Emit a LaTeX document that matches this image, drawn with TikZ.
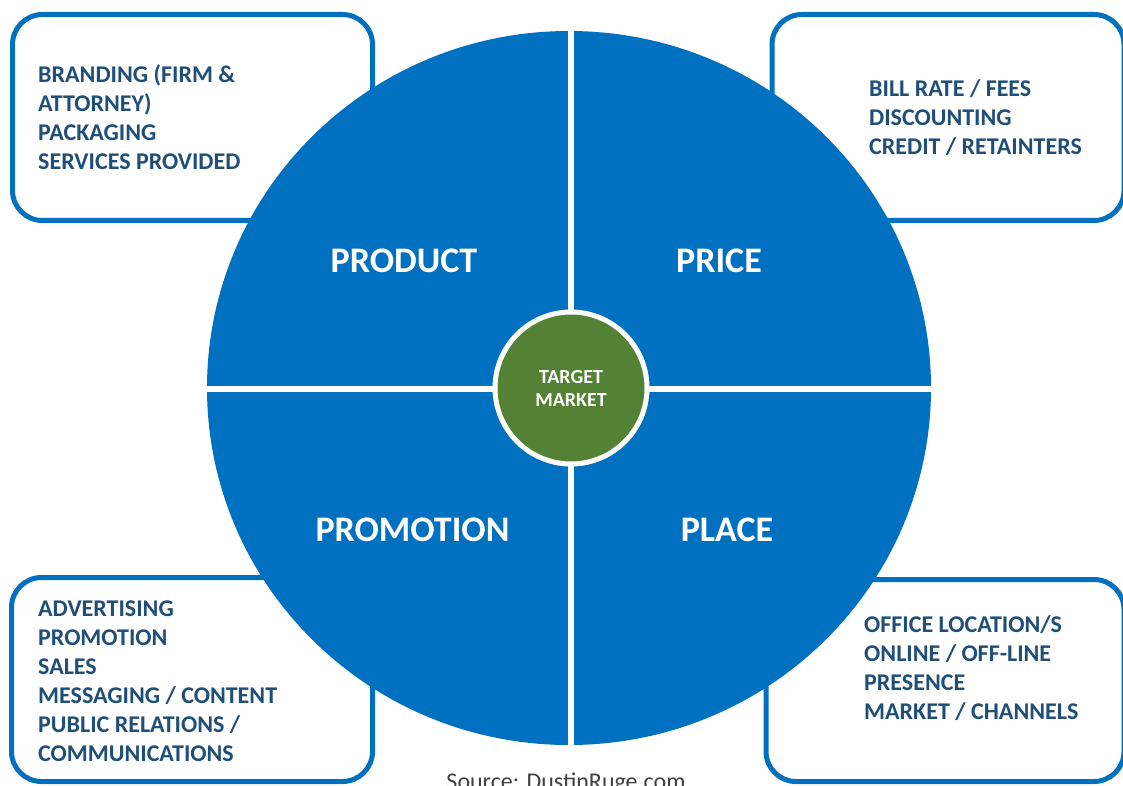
\documentclass[tikz,border=0pt]{standalone}
\usepackage{fontspec}
\setmainfont{Carlito}
\usetikzlibrary{shapes.geometric}

\definecolor{mixblue}{RGB}{0,112,192}
\definecolor{mktgreen}{RGB}{84,130,53}
\definecolor{itemblue}{RGB}{31,78,121}
\definecolor{srcgray}{RGB}{64,64,64}

\begin{document}
\begin{tikzpicture}[x=1pt, y=-1pt,
  box/.style={draw=mixblue, line width=5pt, rounded corners=30pt, fill=white, inner sep=0pt},
  items/.style={anchor=west, align=left, font=\bfseries\fontsize{24}{29}\selectfont,
                text=itemblue, inner sep=0pt},
  quad/.style={font=\bfseries\fontsize{36}{40}\selectfont, text=white},
  gap/.style={white, line width=6pt},
]
  \useasboundingbox (0,0) rectangle (1123,786);
  \clip (0,0) rectangle (1123,786);

  % the four boxes behind the wheel
  \node[box, minimum width=360pt, minimum height=206pt]   (prodbox)  at (192.5,117.5) {};
  \node[box, minimum width=352pt, minimum height=206pt]   (pricebox) at (948,117.5)   {};
  \node[box, minimum width=361pt, minimum height=204pt]   (promobox) at (192,679.5)   {};
  \node[box, minimum width=358pt, minimum height=202pt]   (placebox) at (945,680.5)   {};

  \node[items] (proditems)  at (38,117.5)  {BRANDING (FIRM \&\\ ATTORNEY)\\ PACKAGING\\
                                            SERVICES PROVIDED};
  \node[items] (priceitems) at (869,117.5) {BILL RATE / FEES\\ DISCOUNTING\\ CREDIT / RETAINTERS};
  \node[items] (promoitems) at (38,681.5)  {ADVERTISING\\ PROMOTION\\ SALES\\ MESSAGING / CONTENT\\
                                            PUBLIC RELATIONS /\\ COMMUNICATIONS};
  \node[items] (placeitems) at (864,668.5) {OFFICE LOCATION/S\\ ONLINE / OFF-LINE\\ PRESENCE\\
                                            MARKET / CHANNELS};

  % the wheel, cut in four
  \node[ellipse, fill=mixblue, minimum width=724pt, minimum height=714pt, inner sep=0pt]
        (wheel) at (569,388) {};
  \draw[gap] (570.5,20) -- (570.5,760);
  \draw[gap] (195,388.5) -- (945,388.5);

  \node[quad] (product)   at (404,261)   {PRODUCT};
  \node[quad] (price)     at (719,261)   {PRICE};
  \node[quad] (promotion) at (412.5,530) {PROMOTION};
  \node[quad] (place)     at (727,530)   {PLACE};

  \node[circle, fill=mktgreen, draw=white, line width=5pt, minimum size=152pt, inner sep=0pt,
        align=center, text=white, font=\bfseries\fontsize{20}{23}\selectfont]
        (target) at (571,388) {TARGET\\ MARKET};

  \node[text=srcgray, font=\fontsize{24}{26}\selectfont, anchor=base] (source) at (566,789)
        {Source: DustinRuge.com};
\end{tikzpicture}
\end{document}
